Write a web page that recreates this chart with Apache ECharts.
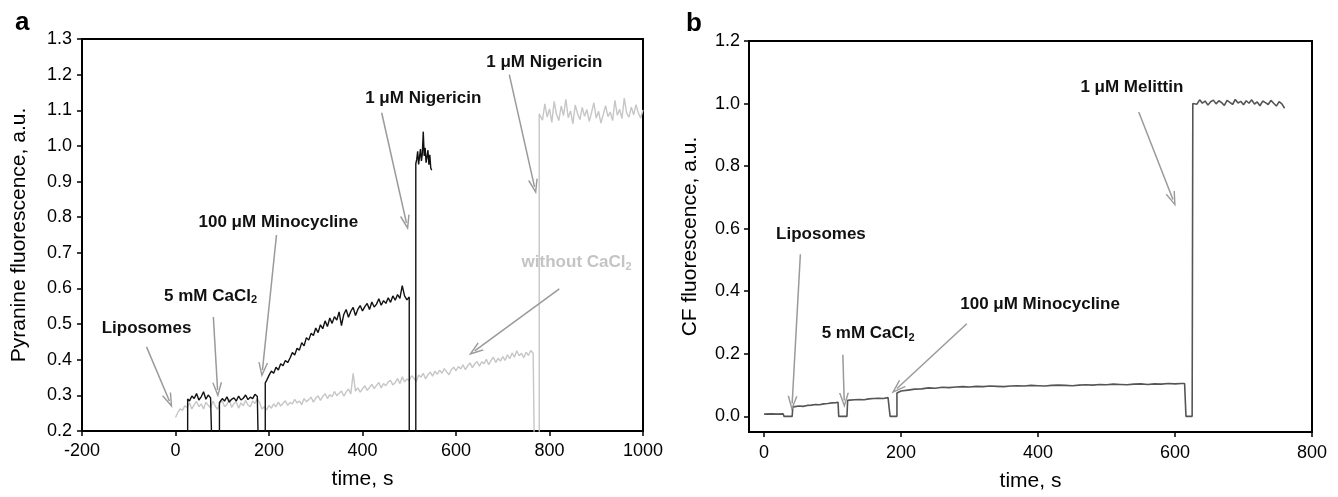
<!DOCTYPE html>
<html>
<head>
<meta charset="utf-8">
<script src="https://cdn.jsdelivr.net/npm/echarts@6/dist/echarts.min.js"></script>
<style>
  html, body { margin: 0; padding: 0; background: #fff; }
  #chart { width: 1338px; height: 497px; }
</style>
</head>
<body>
<div id="chart"></div>
<script>
// ---- panel a: pyranine, with CaCl2 (black) ----
const aBlackSteps1 = [[26, 0.1], [26, 0.29]];
const aBlack1 = [0.284, 0.298, 0.291, 0.305, 0.287, 0.296, 0.31, 0.289, 0.301, 0.293]; // t 30..75 step 5
const aBlackSteps2 = [[79, 0.29], [79, 0.1], [94, 0.1], [94, 0.28]];
const aBlack2 = [0.279, 0.291, 0.284, 0.296, 0.281, 0.289, 0.293, 0.284, 0.298, 0.287,
  0.292, 0.301, 0.288, 0.295, 0.291, 0.303, 0.297]; // t 95..175 step 5
const aBlackSteps3 = [[178, 0.3], [178, 0.1], [192, 0.1], [192, 0.335]];
const aBlack3 = [0.342, 0.356, 0.368, 0.362, 0.379, 0.371, 0.389, 0.383, 0.398, 0.392,
  0.405, 0.42, 0.413, 0.432, 0.427, 0.448, 0.439, 0.462, 0.455, 0.474,
  0.468, 0.489, 0.476, 0.498, 0.487, 0.509, 0.493, 0.517, 0.502, 0.521,
  0.511, 0.534, 0.496, 0.527, 0.541, 0.519, 0.536, 0.547, 0.524, 0.541,
  0.552, 0.537, 0.549, 0.558, 0.541, 0.562, 0.548, 0.556, 0.571, 0.553,
  0.566, 0.558, 0.574, 0.561, 0.579, 0.567, 0.583, 0.572, 0.608, 0.579,
  0.568, 0.576]; // t 195..500 step 5
const aBlackSteps4 = [[500, 0.576], [500, 0.1], [514, 0.1], [514, 0.95]];
const aBlack4 = [0.962, 0.985, 0.948, 0.97, 0.991, 0.958, 0.978, 1.04, 0.972, 0.995,
  0.953, 0.969, 0.988, 0.947, 0.975, 0.938, 0.932]; // t 516..548 step 2

// ---- panel a: without CaCl2 (grey) ----
const aGrey1 = [0.238, 0.252, 0.262, 0.258, 0.271, 0.266, 0.279, 0.262, 0.274, 0.283,
  0.268, 0.276, 0.262, 0.281, 0.272, 0.265, 0.284, 0.27, 0.261, 0.278,
  0.285, 0.268, 0.274, 0.289, 0.266, 0.277, 0.282, 0.264, 0.279, 0.271,
  0.286, 0.273, 0.268, 0.284, 0.277, 0.291, 0.279, 0.262, 0.268, 0.259,
  0.272, 0.264, 0.276, 0.268, 0.281, 0.27, 0.278, 0.285, 0.272, 0.28,
  0.276, 0.289, 0.279, 0.284, 0.274, 0.291, 0.282, 0.288, 0.295, 0.281,
  0.292, 0.299, 0.286, 0.297, 0.305, 0.291, 0.302, 0.296, 0.311, 0.299,
  0.306, 0.312, 0.298, 0.309, 0.318, 0.304, 0.362, 0.312, 0.321, 0.309,
  0.318, 0.327, 0.314, 0.322, 0.331, 0.319, 0.328, 0.336, 0.321, 0.333,
  0.327, 0.338, 0.342, 0.329, 0.336, 0.347, 0.333, 0.352, 0.338, 0.346,
  0.341, 0.355, 0.348, 0.339, 0.357, 0.351, 0.362, 0.346, 0.358, 0.365,
  0.354, 0.368, 0.359, 0.371, 0.362, 0.375, 0.366, 0.358, 0.372, 0.379,
  0.369, 0.381, 0.374, 0.386, 0.372, 0.383, 0.391, 0.378, 0.388, 0.395,
  0.382, 0.394, 0.389, 0.401, 0.386, 0.398, 0.407, 0.392, 0.404, 0.396,
  0.409, 0.398, 0.414, 0.403, 0.419, 0.407, 0.425, 0.411, 0.418, 0.406,
  0.421, 0.412, 0.426, 0.418]; // t 0..765 step 5
const aGreySteps = [[768, 0.418], [768, 0.1], [778, 0.1], [778, 1.09]];
const aGrey2 = [1.09, 1.072, 1.118, 1.081, 1.104, 1.066, 1.125, 1.088, 1.071, 1.112,
  1.085, 1.131, 1.079, 1.098, 1.062, 1.115, 1.091, 1.074, 1.108, 1.083,
  1.102, 1.069, 1.094, 1.121, 1.078, 1.097, 1.064, 1.088, 1.113, 1.082,
  1.095, 1.071, 1.128, 1.086, 1.103, 1.077, 1.134, 1.092, 1.081, 1.109,
  1.087, 1.116, 1.093, 1.078, 1.101]; // t 780..1000 step 5

// ---- panel b: CF leakage ----
const bStart = [[0, 0.007], [10, 0.008], [20, 0.007], [28, 0.008], [29, 0], [41, 0], [42, 0.03]];
const b1 = [0.031, 0.033, 0.032, 0.035, 0.036, 0.038, 0.037, 0.04, 0.041, 0.043, 0.044]; // t 45..105 step 6
const bSteps1 = [[108, 0.045], [109, 0], [121, 0], [122, 0.051]];
const b2 = [0.052, 0.053, 0.054, 0.053, 0.056, 0.057, 0.058, 0.057, 0.06]; // t 125..181 step 7
const bSteps2 = [[182, 0.06], [184, 0], [194, 0], [194, 0.075]];
const b3 = [0.081, 0.084, 0.087, 0.088, 0.091, 0.09, 0.093, 0.092, 0.094, 0.095,
  0.094, 0.096, 0.095, 0.097, 0.096, 0.095, 0.097, 0.098, 0.097, 0.099,
  0.098, 0.097, 0.099, 0.1, 0.099, 0.098, 0.1, 0.101, 0.1, 0.102,
  0.101, 0.103, 0.102, 0.101, 0.103, 0.104, 0.102, 0.104, 0.103, 0.105,
  0.104, 0.105]; // t 200..610 step 10
const bSteps3 = [[614, 0.105], [616, 0], [625, 0], [626, 1.0]];
const b4 = [1.005, 0.998, 1.012, 1.001, 1.008, 0.995, 1.006, 1.011, 0.999, 1.009,
  1.003, 0.994, 1.01, 1.004, 0.997, 1.013, 1.002, 1.007, 0.996, 1.009,
  1.001, 1.012, 0.998, 1.005, 0.993, 1.008, 1.003, 0.997, 1.01, 1.001,
  0.992, 1.006, 0.999, 0.985]; // t 628..760 step 4

// tick labels
const aXTicks = [-200, 0, 200, 400, 600, 800, 1000];
const aYTicks = [0.2, 0.3, 0.4, 0.5, 0.6, 0.7, 0.8, 0.9, 1.0, 1.1, 1.2, 1.3];
const bXTicks = [0, 200, 400, 600, 800];
const bYTicks = [0, 0.2, 0.4, 0.6, 0.8, 1.0, 1.2];

// annotations: [t, value, text, colour]
const annA = [
  [-62, 0.489, 'Liposomes', '#111'],
  [75, 0.579, '5 mM CaCl{s|2}', '#111'],
  [220, 0.787, '100 μM Minocycline', '#111'],
  [530, 1.133, '1 μM Nigericin', '#111'],
  [789, 1.234, '1 μM Nigericin', '#111'],
  [858, 0.672, 'without CaCl{s|2}', '#c4c4c4']
];
const arrowsA = [
  [-62, 0.436, -13, 0.284],
  [81, 0.52, 90, 0.315],
  [216, 0.75, 186, 0.371],
  [441, 1.093, 494, 0.784],
  [714, 1.2, 768, 0.885],
  [821, 0.599, 640, 0.425]
];
const annB = [
  [83, 0.582, 'Liposomes', '#111'],
  [152, 0.264, '5 mM CaCl{s|2}', '#111'],
  [403, 0.359, '100 μM Minocycline', '#111'],
  [537, 1.052, '1 μM Melittin', '#111']
];
const arrowsB = [
  [53, 0.518, 41, 0.041],
  [115, 0.197, 117, 0.051],
  [296, 0.296, 194, 0.089],
  [547, 0.973, 597, 0.693]
];

function seg(t0, dt, vals) {
  return vals.map((v, i) => [t0 + i * dt, v]);
}

const blackA = [].concat(aBlackSteps1, seg(30, 5, aBlack1), aBlackSteps2, seg(95, 5, aBlack2),
  aBlackSteps3, seg(195, 5, aBlack3), aBlackSteps4, seg(516, 2, aBlack4));
const greyA = [].concat(seg(0, 5, aGrey1), aGreySteps, seg(780, 5, aGrey2));
const lineB = [].concat(bStart, seg(45, 6, b1), bSteps1, seg(125, 7, b2), bSteps2,
  seg(200, 10, b3), bSteps3, seg(628, 4, b4));

const FONT = 'Liberation Sans, Arial, sans-serif';
const chevron = 'path://M5,0 L10,15 L8.5,15 L5,4.5 L1.5,15 L0,15 Z';

function arrowLines(list) {
  return {
    silent: true,
    animation: false,
    symbol: ['none', chevron],
    symbolSize: [10, 15],
    label: { show: false },
    lineStyle: { color: '#9a9a9a', width: 1.5, type: 'solid' },
    data: list.map(a => [{ coord: [a[0], a[1]] }, { coord: [a[2], a[3]] }])
  };
}

function annSeries(list, idx) {
  return {
    type: 'scatter',
    xAxisIndex: idx,
    yAxisIndex: idx,
    symbolSize: 1,
    silent: true,
    itemStyle: { color: 'rgba(0,0,0,0)', opacity: 1 },
    data: list.map(a => ({
      value: [a[0], a[1]],
      label: {
        show: true,
        position: 'inside',
        formatter: a[2],
        color: a[3],
        textBorderWidth: 0,
        fontSize: 17,
        fontWeight: 'bold',
        fontFamily: FONT,
        rich: { s: { fontSize: 11, fontWeight: 'bold', color: a[3], textBorderWidth: 0, fontFamily: FONT, padding: [9, 0, 0, 0] } }
      }
    }))
  };
}

function valueAxis(idx, min, max, opts) {
  return Object.assign({
    type: 'value',
    gridIndex: idx,
    min: min,
    max: max,
    splitLine: { show: false },
    axisLine: { show: true, onZero: false, lineStyle: { color: '#000', width: 2 } },
    axisTick: { show: true, inside: false, length: 5, lineStyle: { color: '#000', width: 1.5 } },
    nameTextStyle: { color: '#000', fontSize: 21, fontFamily: FONT },
    nameLocation: 'middle'
  }, opts);
}

const fmt1 = v => v.toFixed(1);
const fmt0 = v => String(Math.round(v));

const chart = echarts.init(document.getElementById('chart'));
chart.setOption({
  animation: false,
  backgroundColor: '#fff',
  title: [
    { text: 'a', left: 10, top: 5, textStyle: { fontSize: 26, fontWeight: 'bold', fontFamily: FONT, color: '#000' } },
    { text: 'b', left: 681, top: 6, textStyle: { fontSize: 26, fontWeight: 'bold', fontFamily: FONT, color: '#000' } }
  ],
  grid: [
    { left: 82, right: 695, top: 39, bottom: 66, show: true, borderColor: '#000', borderWidth: 2 },
    { left: 749, right: 26, top: 41, bottom: 64, show: true, borderColor: '#000', borderWidth: 2 }
  ],
  xAxis: [
    valueAxis(0, -200, 1000, {
      interval: 200,
      name: 'time, s',
      nameGap: 38,
      axisLabel: { color: '#000', fontSize: 18, fontFamily: FONT, margin: 11, customValues: aXTicks, formatter: fmt0 }
    }),
    valueAxis(1, -22, 800, {
      name: 'time, s',
      nameGap: 39,
      axisTick: { show: true, length: 5, lineStyle: { color: '#000', width: 1.5 }, customValues: bXTicks },
      axisLabel: { color: '#000', fontSize: 18, fontFamily: FONT, margin: 12, customValues: bXTicks, formatter: fmt0 }
    })
  ],
  yAxis: [
    valueAxis(0, 0.2, 1.3, {
      interval: 0.1,
      name: 'Pyranine fluorescence, a.u.',
      nameGap: 52,
      axisLabel: { color: '#000', fontSize: 18, fontFamily: FONT, margin: 10, customValues: aYTicks, formatter: fmt1 }
    }),
    valueAxis(1, -0.05, 1.2, {
      name: 'CF fluorescence, a.u.',
      nameGap: 48,
      axisTick: { show: true, length: 5, lineStyle: { color: '#000', width: 1.5 }, customValues: bYTicks },
      axisLabel: { color: '#000', fontSize: 18, fontFamily: FONT, margin: 9, customValues: bYTicks, formatter: fmt1 }
    })
  ],
  series: [
    {
      name: 'without CaCl2',
      type: 'line',
      xAxisIndex: 0,
      yAxisIndex: 0,
      data: greyA,
      showSymbol: false,
      lineStyle: { color: '#c6c6c6', width: 1.4 },
      markLine: arrowLines(arrowsA)
    },
    {
      name: 'with CaCl2',
      type: 'line',
      xAxisIndex: 0,
      yAxisIndex: 0,
      data: blackA,
      showSymbol: false,
      lineStyle: { color: '#111', width: 1.4 }
    },
    {
      name: 'CF',
      type: 'line',
      xAxisIndex: 1,
      yAxisIndex: 1,
      data: lineB,
      showSymbol: false,
      lineStyle: { color: '#555', width: 1.6 },
      markLine: arrowLines(arrowsB)
    },
    annSeries(annA, 0),
    annSeries(annB, 1)
  ]
});
</script>
</body>
</html>
